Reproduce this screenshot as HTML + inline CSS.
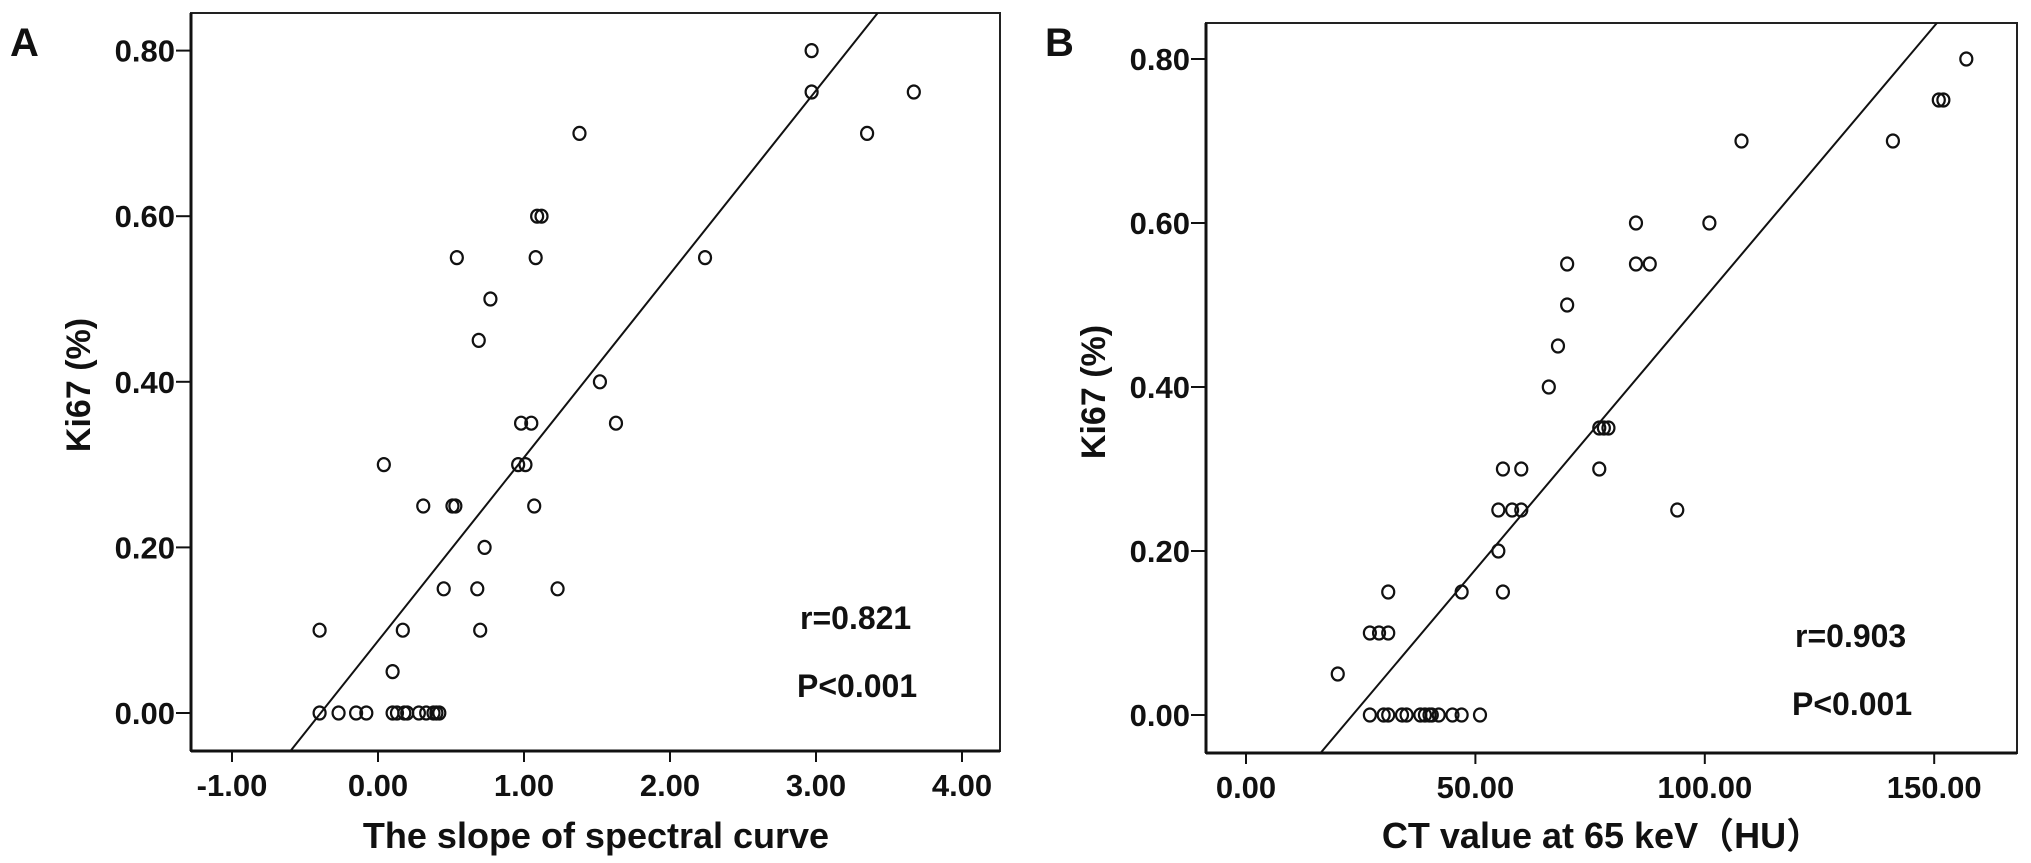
<!DOCTYPE html>
<html><head><meta charset="utf-8">
<style>
html,body{margin:0;padding:0;background:#fff;width:2031px;height:863px;overflow:hidden;}
svg{display:block;}
text{font-family:"Liberation Sans","Noto Sans CJK SC",sans-serif;font-weight:bold;fill:#111;}
</style></head>
<body>
<svg id="chart" width="2031" height="863" viewBox="0 0 2031 863" xmlns="http://www.w3.org/2000/svg">
<g id="panelA"></g>
<g id="panelB"></g>
</svg>
<script>
// Panel A data
const aXTicks = [-1, 0, 1, 2, 3, 4];
const aXTickLabels = ["-1.00","0.00","1.00","2.00","3.00","4.00"];
const aYTicks = [0, 0.2, 0.4, 0.6, 0.8];
const aYTickLabels = ["0.00","0.20","0.40","0.60","0.80"];
const aX = [-0.40,-0.40,-0.27,-0.15,-0.08,0.10,0.10,0.13,0.18,0.20,0.28,0.33,0.38,0.40,0.42,0.17,0.04,0.31,0.51,0.53,0.45,0.68,0.70,0.73,0.69,0.77,0.54,1.08,1.09,1.12,1.38,0.96,1.01,0.98,1.05,1.07,1.23,1.52,1.63,2.24,2.97,2.97,3.35,3.67];
const aY = [0.10,0,0,0,0,0.05,0,0,0,0,0,0,0,0,0,0.10,0.30,0.25,0.25,0.25,0.15,0.15,0.10,0.20,0.45,0.50,0.55,0.55,0.60,0.60,0.70,0.30,0.30,0.35,0.35,0.25,0.15,0.40,0.35,0.55,0.80,0.75,0.70,0.75];
const aFit = [0.087, 0.2216]; // intercept, slope
// Panel B data
const bXTicks = [0, 50, 100, 150];
const bXTickLabels = ["0.00","50.00","100.00","150.00"];
const bYTicks = [0, 0.2, 0.4, 0.6, 0.8];
const bYTickLabels = ["0.00","0.20","0.40","0.60","0.80"];
const bX = [20,27,29,31,31,27,30,31,34,35,38,39,40,40.5,42,45,47,51,47,55,56,55,58,60,56,60,66,68,70,70,85,88,85,101,108,77,78,79,77,94,141,151,152,157];
const bY = [0.05,0.10,0.10,0.10,0.15,0,0,0,0,0,0,0,0,0,0,0,0,0,0.15,0.20,0.15,0.25,0.25,0.25,0.30,0.30,0.40,0.45,0.50,0.55,0.55,0.55,0.60,0.60,0.70,0.35,0.35,0.35,0.30,0.25,0.70,0.75,0.75,0.80];
const bFit = [-0.154, 0.006627];

const NS = "http://www.w3.org/2000/svg";
function mk(tag, attrs, parent, txt){
  const e = document.createElementNS(NS, tag);
  for (const k in attrs) e.setAttribute(k, attrs[k]);
  if (txt !== undefined) e.textContent = txt;
  parent.appendChild(e);
  return e;
}

function drawPanel(g, cfg){
  const sx = v => cfg.x0 + (v - cfg.xv0) * cfg.xs;
  const sy = v => cfg.y0 - v * cfg.ys;
  const L = cfg.left, R = cfg.right, T = cfg.top, B = cfg.bottom;
  const cid = "clip" + cfg.id;
  const defs = mk("defs", {}, g);
  const cp = mk("clipPath", {id: cid}, defs);
  mk("rect", {x: L, y: T, width: R - L, height: B - T}, cp);
  const frame = mk("rect", {x: L, y: T, width: R - L, height: B - T, fill: "none", stroke: "#222", "stroke-width": 2}, g);
  
  
  mk("line", {x1: L, y1: B, x2: R, y2: B, stroke: "#111", "stroke-width": 3}, g);
  mk("line", {x1: L, y1: T, x2: L, y2: B, stroke: "#111", "stroke-width": 3}, g);
  cfg.xTicks.forEach((t, i) => {
    const x = sx(t);
    mk("line", {x1: x, y1: B, x2: x, y2: B + 11, stroke: "#111", "stroke-width": 2}, g);
    const lb = mk("text", {x: x, y: B + 45, "text-anchor": "middle", "font-size": 31}, g, cfg.xLabels[i]);
    
    
  });
  cfg.yTicks.forEach((t, i) => {
    const y = sy(t);
    mk("line", {x1: L - 15, y1: y, x2: L, y2: y, stroke: "#111", "stroke-width": 2}, g);
    const lb = mk("text", {x: L - 16, y: y + 11, "text-anchor": "end", "font-size": 31}, g, cfg.yLabels[i]);
    
    
  });
  const xa = cfg.xv0 - 5, xb = cfg.xv1;
  const fl = mk("line", {x1: sx(xa), y1: sy(cfg.fit[0] + cfg.fit[1] * xa), x2: sx(xb), y2: sy(cfg.fit[0] + cfg.fit[1] * xb), stroke: "#111", "stroke-width": 2, "clip-path": "url(#" + cid + ")"}, g);
  
  
  cfg.xs_.forEach((v, i) => {
    const c = mk("ellipse", {cx: sx(v), cy: sy(cfg.ys_[i]), rx: 6, ry: 6.5, fill: "none", stroke: "#111", "stroke-width": 2.2}, g);
    
    
  });
  const r = mk("text", {x: cfg.statX, y: cfg.statY, "font-size": 32}, g, cfg.r);
  
  
  const p = mk("text", {x: cfg.statX - 3, y: cfg.statY + 68, "font-size": 32}, g, "P<0.001");
  
  
  const xt = mk("text", {x: cfg.xTitleX, y: 848, "text-anchor": "middle", "font-size": 36}, g, cfg.xTitle);
  
  
  const yt = mk("text", {x: 0, y: 0, "text-anchor": "middle", "font-size": 34, transform: "translate(" + cfg.yTitleX + "," + cfg.yTitleY + ") rotate(-90)"}, g, "Ki67 (%)");
  
  
  const letter = mk("text", {x: cfg.letterX, y: 56, "font-size": 40}, g, cfg.letter);
  
  
}

drawPanel(document.getElementById("panelA"), {
  id: "A", x0: 378, xv0: 0, xs: 146, y0: 713, ys: 828, xv1: 4.3,
  left: 191, right: 1000, top: 13, bottom: 751,
  xTicks: aXTicks, xLabels: aXTickLabels, yTicks: aYTicks, yLabels: aYTickLabels,
  xs_: aX, ys_: aY, fit: aFit, r: "r=0.821", statX: 800, statY: 629,
  xTitle: "The slope of spectral curve", xTitleX: 596, yTitleX: 90, yTitleY: 385,
  letter: "A", letterX: 10
});
drawPanel(document.getElementById("panelB"), {
  id: "B", x0: 1246, xv0: 0, xs: 4.588, y0: 715, ys: 820, xv1: 170,
  left: 1206, right: 2017, top: 23, bottom: 753,
  xTicks: bXTicks, xLabels: bXTickLabels, yTicks: bYTicks, yLabels: bYTickLabels,
  xs_: bX, ys_: bY, fit: bFit, r: "r=0.903", statX: 1795, statY: 647,
  xTitle: "CT value at 65 keV（HU）", xTitleX: 1602, yTitleX: 1105, yTitleY: 392,
  letter: "B", letterX: 1045
});
</script>
</body></html>
